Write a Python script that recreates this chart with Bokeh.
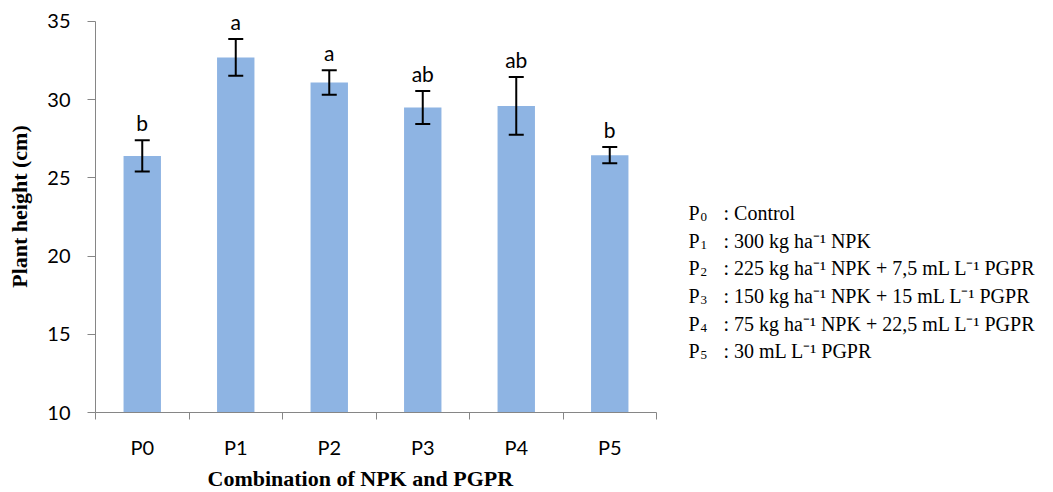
from bokeh.plotting import figure
from bokeh.models import (ColumnDataSource, Range1d, FixedTicker, Whisker, TeeHead,
                          LabelSet, Title)
from bokeh.core.properties import value
from bokeh.embed import file_html
from bokeh.resources import INLINE

# ---- data ----
categories = ["P0", "P1", "P2", "P3", "P4", "P5"]
means = [26.4, 32.7, 31.1, 29.5, 29.6, 26.45]
errors = [1.0, 1.17, 0.78, 1.05, 1.85, 0.52]
letters = ["b", "a", "a", "ab", "ab", "b"]
y_ticks = [10, 15, 20, 25, 30, 35]

legend_keys = ["0", "1", "2", "3", "4", "5"]
legend_texts = [
    ": Control",
    ": 300 kg ha\u207b\u00b9 NPK",
    ": 225 kg ha\u207b\u00b9 NPK + 7,5 mL L\u207b\u00b9 PGPR",
    ": 150  kg ha\u207b\u00b9 NPK + 15 mL L\u207b\u00b9 PGPR",
    ": 75 kg ha\u207b\u00b9 NPK + 22,5 mL L\u207b\u00b9 PGPR",
    ": 30 mL L\u207b\u00b9 PGPR",
]

n = len(categories)
xs = [i + 0.5 for i in range(n)]
upper = [m + e for m, e in zip(means, errors)]
lower = [m - e for m, e in zip(means, errors)]

src = ColumnDataSource(dict(x=xs, top=means, upper=upper, lower=lower, letter=letters))

# ---- layout (canvas pixels) ----
W, H = 1050, 492
X0, X6 = 95, 656        # pixel columns of the category axis ends
Y35, Y10 = 21, 413      # pixel rows of the 35 and 10 ticks
y0, y1 = 10, 35
ppu_y = (Y10 - Y35) / (y1 - y0)
ppu_x = (X6 - X0) / n
y_top = y1 + Y35 / ppu_y
x_right = n + (W - X6) / ppu_x

def px2x(px):
    return (px - X0) / ppu_x

def px2y(py):
    return y1 - (py - Y35) / ppu_y

p = figure(width=W, height=H, output_backend="svg", toolbar_location=None,
           x_range=Range1d(0, x_right), y_range=Range1d(y0, y_top),
           min_border_left=X0, min_border_right=0,
           min_border_top=0, min_border_bottom=H - Y10)
p.outline_line_color = None
p.grid.visible = False
p.background_fill_color = "white"
p.border_fill_color = "white"

p.vbar(x="x", top="top", bottom=y0, width=0.4, source=src,
       fill_color="#8EB4E3", line_color=None)

p.add_layout(Whisker(base="x", upper="upper", lower="lower", source=src, level="overlay",
                     line_color="black", line_width=2,
                     upper_head=TeeHead(size=15, line_color="black", line_width=2),
                     lower_head=TeeHead(size=15, line_color="black", line_width=2)))

p.add_layout(LabelSet(x="x", y="upper", text="letter", source=src, y_offset=9,
                      text_align="center", text_baseline="alphabetic",
                      text_font=value("Lato"), text_font_size="21px", text_color="black"))

axis_gray = "#868686"
xa = p.xaxis[0]
xa.bounds = (0, n)
xa.ticker = FixedTicker(ticks=xs, minor_ticks=list(range(n + 1)))
xa.major_label_overrides = {x: c for x, c in zip(xs, categories)}
xa.major_tick_line_color = None
xa.major_tick_out = 0
xa.major_tick_in = 0
xa.minor_tick_line_color = axis_gray
xa.minor_tick_out = 7
xa.minor_tick_in = 0
xa.axis_line_color = axis_gray
xa.major_label_text_font = "Lato"
xa.major_label_text_font_size = "20px"
xa.major_label_text_color = "black"
xa.major_label_standoff = 15

# x-axis title, placed under the category axis
p.add_layout(Title(text="Combination of NPK and PGPR", align="left", offset=112,
                   standoff=4, text_font="Liberation Serif", text_font_style="bold",
                   text_font_size="22px", text_color="black"), "below")

ya = p.yaxis[0]
ya.bounds = (y0, y1)
ya.ticker = FixedTicker(ticks=y_ticks)
ya.major_tick_line_color = axis_gray
ya.major_tick_out = 8
ya.major_tick_in = 0
ya.minor_tick_line_color = None
ya.axis_line_color = axis_gray
ya.major_label_text_font = "Lato"
ya.major_label_text_font_size = "20px"
ya.major_label_text_color = "black"
ya.major_label_standoff = 17
ya.axis_label = "Plant height (cm)"
ya.axis_label_text_font = "Liberation Serif"
ya.axis_label_text_font_style = "bold"
ya.axis_label_text_font_size = "22px"
ya.axis_label_text_color = "black"
ya.axis_label_standoff = 12

# ---- legend block (right of the chart) ----
bases = [213 + 27.7 * i for i in range(len(legend_keys))]
m = len(bases)
p.text(x=[px2x(688)] * m, y=[px2y(b) for b in bases], text=["P"] * m,
       text_font=value("Liberation Serif"), text_font_size="20px",
       text_baseline="alphabetic", text_color="black")
p.text(x=[px2x(700)] * m, y=[px2y(b + 4) for b in bases], text=legend_keys,
       text_font=value("Liberation Serif"), text_font_size="13px",
       text_baseline="alphabetic", text_color="black")
p.text(x=[px2x(723)] * m, y=[px2y(b) for b in bases], text=legend_texts,
       text_font=value("Liberation Serif"), text_font_size="20px",
       text_baseline="alphabetic", text_color="black")

open("out.html", "w").write(file_html(p, INLINE))
